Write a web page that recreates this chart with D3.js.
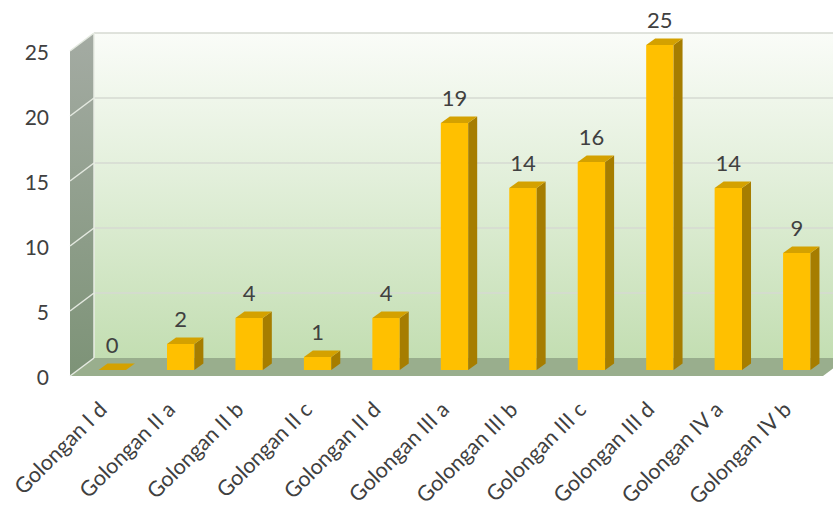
<!DOCTYPE html>
<html>
<head>
<meta charset="utf-8">
<script src="https://cdn.jsdelivr.net/npm/d3@7/dist/d3.min.js"></script>
<style>
  html, body { margin: 0; padding: 0; background: #ffffff; }
  svg { display: block; }
  text { font-family: Lato, "Open Sans", sans-serif; fill: #404040; }
</style>
</head>
<body>
<svg id="chart" width="833" height="511"></svg>
<script>
// Jumlah pegawai per golongan
const categories = ["Golongan I d", "Golongan II a", "Golongan II b", "Golongan II c", "Golongan II d",
  "Golongan III a", "Golongan III b", "Golongan III c", "Golongan III d", "Golongan IV a", "Golongan IV b"];
const values = [0, 2, 4, 1, 4, 19, 14, 16, 25, 14, 9];
const yTicks = [0, 5, 10, 15, 20, 25];

const svg = d3.select("#chart");

// front plane of the 3D box and its depth vector
const x0 = 70, x1 = 823;
const depth = { dx: 24, dy: -18 };
// bar placement inside the depth of the box
const barOff = { dx: 8, dy: -6 };
const barDepth = { dx: 9, dy: -6.5 };

const x = d3.scaleBand().domain(categories).range([x0, x1]).paddingInner(0.6).paddingOuter(0.3);
const y = d3.scaleLinear().domain([0, 25]).range([376, 51]);

const defs = svg.append("defs");
const gBack = defs.append("linearGradient").attr("id", "backWall").attr("x1", 0).attr("y1", 0).attr("x2", 0).attr("y2", 1);
gBack.append("stop").attr("offset", 0).attr("stop-color", "#fafcf8");
gBack.append("stop").attr("offset", 0.45).attr("stop-color", "#e2efda");
gBack.append("stop").attr("offset", 1).attr("stop-color", "#c3deb2");
const gSide = defs.append("linearGradient").attr("id", "sideWall").attr("x1", 0).attr("y1", 0).attr("x2", 0).attr("y2", 1);
gSide.append("stop").attr("offset", 0).attr("stop-color", "#a4aba3");
gSide.append("stop").attr("offset", 1).attr("stop-color", "#7d9377");

const poly = pts => "M" + pts.map(p => p.join(",")).join("L") + "Z";

const yMin = y(0), yMax = y(25);

// back wall
svg.append("path")
  .attr("d", poly([[x0 + depth.dx, yMax + depth.dy], [x1 + depth.dx, yMax + depth.dy],
                   [x1 + depth.dx, yMin + depth.dy], [x0 + depth.dx, yMin + depth.dy]]))
  .attr("fill", "url(#backWall)");

// side wall
svg.append("path")
  .attr("d", poly([[x0, yMax], [x0 + depth.dx, yMax + depth.dy], [x0 + depth.dx, yMin + depth.dy], [x0, yMin]]))
  .attr("fill", "url(#sideWall)");

// floor
svg.append("path")
  .attr("d", poly([[x0, yMin], [x0 + depth.dx, yMin + depth.dy], [x1 + depth.dx, yMin + depth.dy], [x1, yMin]]))
  .attr("fill", "#99ae8d");

// gridlines on back wall and side wall
const grid = svg.append("g");
grid.selectAll("line.back").data(yTicks.filter(t => t > 0)).join("line")
  .attr("class", "back")
  .attr("x1", x0 + depth.dx).attr("x2", x1 + depth.dx)
  .attr("y1", d => y(d) + depth.dy).attr("y2", d => y(d) + depth.dy)
  .attr("stroke", "#d6dad2").attr("stroke-width", 1.5);
grid.selectAll("line.side").data(yTicks.filter(t => t > 0)).join("line")
  .attr("class", "side")
  .attr("x1", x0).attr("x2", x0 + depth.dx)
  .attr("y1", d => y(d)).attr("y2", d => y(d) + depth.dy)
  .attr("stroke", "#e4e9e0").attr("stroke-width", 1.5);
// wall edges
grid.append("line")
  .attr("x1", x0 + depth.dx).attr("x2", x0 + depth.dx)
  .attr("y1", yMax + depth.dy).attr("y2", yMin + depth.dy)
  .attr("stroke", "#e8ece4").attr("stroke-width", 1.5);
grid.append("line")
  .attr("x1", x0).attr("x2", x0 + depth.dx)
  .attr("y1", yMin).attr("y2", yMin + depth.dy)
  .attr("stroke", "#e4e9e0").attr("stroke-width", 1.5);

// y axis labels
svg.append("g").selectAll("text").data(yTicks).join("text")
  .attr("x", 49).attr("y", d => y(d))
  .attr("dy", "0.42em")
  .attr("text-anchor", "end")
  .style("font-size", "21px")
  .text(d => d);

// bars
const bars = svg.append("g").selectAll("g").data(values.map((v, i) => ({ v, c: categories[i] }))).join("g");
bars.each(function (d) {
  const g = d3.select(this);
  const left = x(d.c) + barOff.dx, right = left + x.bandwidth();
  const bot = y(0) + barOff.dy, top = y(d.v) + barOff.dy;
  // front face
  g.append("path").attr("d", poly([[left, top], [right, top], [right, bot], [left, bot]])).attr("fill", "#ffc000");
  // side face
  g.append("path").attr("d", poly([[right, top], [right + barDepth.dx, top + barDepth.dy],
      [right + barDepth.dx, bot + barDepth.dy], [right, bot]])).attr("fill", "#a67d00");
  // top face
  g.append("path").attr("d", poly([[left, top], [left + barDepth.dx, top + barDepth.dy],
      [right + barDepth.dx, top + barDepth.dy], [right, top]])).attr("fill", "#d4a100");
  // value label
  g.append("text")
    .attr("x", (left + right) / 2)
    .attr("y", top + barDepth.dy - 11)
    .attr("text-anchor", "middle")
    .style("font-size", "22px")
    .text(d.v);
});

// category labels
svg.append("g").selectAll("text").data(categories).join("text")
  .attr("transform", d => `translate(${x(d) + x.bandwidth() / 2 + 4},${411}) rotate(-45)`)
  .attr("text-anchor", "end")
  .style("font-size", "21.5px")
  .text(d => d);
</script>
</body>
</html>
